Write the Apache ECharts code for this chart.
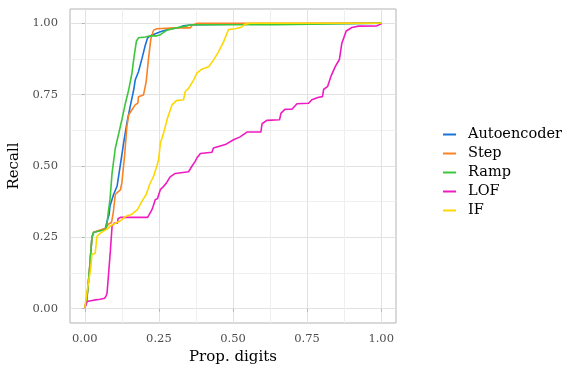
<!DOCTYPE html>
<html>
<head>
<meta charset="utf-8">
<script src="https://cdn.jsdelivr.net/npm/echarts@6/dist/echarts.min.js"></script>
<style>
  html, body { margin: 0; padding: 0; background: #ffffff; }
  #chart { width: 563px; height: 365px; }
</style>
</head>
<body>
<div id="chart"></div>
<script>
// Recall against the proportion of digits inspected, one curve per detector.
const seriesNames = ['Autoencoder', 'Step', 'Ramp', 'LOF', 'IF'];
const seriesColors = ['#1a73d6', '#fb8224', '#3cc63c', '#ee1cc0', '#ffd700'];

const majorTicks = [0, 0.25, 0.5, 0.75, 1];
const minorTicks = [0.125, 0.375, 0.625, 0.875];

const autoencoder = [
  [0, 0.003], [0.007, 0.035], [0.016, 0.139], [0.024, 0.25], [0.03, 0.268],
  [0.052, 0.274], [0.069, 0.28], [0.077, 0.314], [0.082, 0.33], [0.085, 0.36],
  [0.097, 0.40], [0.109, 0.43], [0.12, 0.505], [0.131, 0.581], [0.142, 0.651],
  [0.153, 0.708], [0.165, 0.767], [0.17, 0.801], [0.181, 0.83], [0.193, 0.877],
  [0.204, 0.923], [0.212, 0.949], [0.221, 0.956], [0.255, 0.97], [0.288, 0.981],
  [0.316, 0.984], [0.333, 0.991], [0.356, 0.994], [0.5, 0.997], [0.502, 1.0], [1, 1]
];

const step = [
  [0, 0.003], [0.007, 0.035], [0.016, 0.139], [0.024, 0.25], [0.03, 0.268],
  [0.052, 0.276], [0.07, 0.282], [0.079, 0.296], [0.09, 0.302], [0.096, 0.337],
  [0.103, 0.401], [0.12, 0.416], [0.125, 0.441], [0.134, 0.534], [0.142, 0.639],
  [0.148, 0.679], [0.159, 0.697], [0.17, 0.714], [0.179, 0.72], [0.181, 0.743],
  [0.198, 0.749], [0.207, 0.795], [0.215, 0.877], [0.223, 0.947], [0.232, 0.976],
  [0.243, 0.981], [0.305, 0.984], [0.356, 0.984], [0.362, 0.993], [0.38, 1.0], [1, 1]
];

const ramp = [
  [0, 0.003], [0.007, 0.035], [0.016, 0.139], [0.024, 0.25], [0.029, 0.267],
  [0.052, 0.273], [0.068, 0.276], [0.074, 0.29], [0.079, 0.337], [0.085, 0.383],
  [0.092, 0.476], [0.103, 0.563], [0.116, 0.621], [0.125, 0.662], [0.137, 0.72],
  [0.148, 0.767], [0.159, 0.825], [0.167, 0.889], [0.174, 0.937], [0.181, 0.949],
  [0.204, 0.952], [0.221, 0.956], [0.243, 0.956], [0.255, 0.96], [0.277, 0.976],
  [0.311, 0.984], [0.345, 0.991], [0.36, 0.995], [0.64, 0.995], [0.645, 1.0], [1, 1]
];

const lof = [
  [0, 0.003], [0.004, 0.01], [0.008, 0.025], [0.02, 0.028], [0.03, 0.03],
  [0.052, 0.033], [0.067, 0.037], [0.072, 0.045], [0.075, 0.055], [0.08, 0.12],
  [0.086, 0.2], [0.092, 0.29], [0.1, 0.3], [0.11, 0.3], [0.112, 0.315],
  [0.12, 0.32], [0.212, 0.32], [0.221, 0.337], [0.227, 0.348], [0.238, 0.383],
  [0.245, 0.385], [0.255, 0.418], [0.262, 0.424], [0.275, 0.44], [0.288, 0.462],
  [0.305, 0.474], [0.35, 0.48], [0.362, 0.5], [0.373, 0.517], [0.378, 0.528],
  [0.39, 0.544], [0.429, 0.548], [0.434, 0.563], [0.474, 0.575], [0.502, 0.592],
  [0.524, 0.602], [0.547, 0.619], [0.594, 0.619], [0.598, 0.648], [0.614, 0.66],
  [0.657, 0.662], [0.662, 0.685], [0.676, 0.699], [0.699, 0.699], [0.716, 0.718],
  [0.755, 0.72], [0.766, 0.732], [0.789, 0.741], [0.802, 0.743], [0.806, 0.769],
  [0.819, 0.778], [0.83, 0.813], [0.845, 0.848], [0.859, 0.873], [0.867, 0.929],
  [0.882, 0.973], [0.901, 0.985], [0.924, 0.99], [0.985, 0.991], [0.999, 0.997], [1, 1]
];

const isoForest = [
  [0, 0.003], [0.007, 0.058], [0.019, 0.134], [0.024, 0.19], [0.035, 0.194],
  [0.041, 0.253], [0.052, 0.265], [0.075, 0.279], [0.086, 0.29], [0.12, 0.308],
  [0.137, 0.323], [0.159, 0.331], [0.178, 0.348], [0.193, 0.377], [0.207, 0.4],
  [0.219, 0.436], [0.232, 0.464], [0.243, 0.5], [0.249, 0.523], [0.255, 0.581],
  [0.266, 0.616], [0.279, 0.668], [0.294, 0.714], [0.309, 0.729], [0.333, 0.732],
  [0.339, 0.761], [0.35, 0.772], [0.367, 0.801], [0.378, 0.825], [0.395, 0.839],
  [0.418, 0.848], [0.434, 0.871], [0.451, 0.9], [0.468, 0.935], [0.485, 0.978],
  [0.508, 0.981], [0.53, 0.987], [0.541, 0.997], [0.56, 1.0], [1, 1]
];

const seriesData = [autoencoder, step, ramp, lof, isoForest];

const FONT = '"DejaVu Serif", "Liberation Serif", serif';
const AXIS_MIN = -0.05, AXIS_MAX = 1.05;

function majorAxis(isX) {
  return {
    type: 'value',
    position: isX ? 'bottom' : 'left',
    min: AXIS_MIN,
    max: AXIS_MAX,
    axisLine: { show: false },
    axisTick: {
      show: true, length: 3, lineStyle: { color: '#b3b3b3', width: 1 },
      customValues: majorTicks
    },
    axisLabel: {
      customValues: majorTicks,
      formatter: v => v.toFixed(2),
      color: '#4d4d4d', fontFamily: FONT, fontSize: 11.5,
      margin: isX ? 10 : 12
    },
    splitLine: { show: true, lineStyle: { color: '#e2e2e2', width: 1 } },
    nameLocation: 'middle',
    nameTextStyle: { color: '#000', fontFamily: FONT, fontSize: 15 }
  };
}

function minorAxis(isX) {
  return {
    type: 'value',
    position: isX ? 'bottom' : 'left',
    min: AXIS_MIN,
    max: AXIS_MAX,
    axisLine: { show: false },
    axisTick: { show: false, customValues: minorTicks },
    axisLabel: { show: false, customValues: minorTicks },
    splitLine: { show: true, lineStyle: { color: '#efefef', width: 1 } }
  };
}

const xMain = Object.assign(majorAxis(true), { name: 'Prop. digits', nameGap: 22 });
const yMain = Object.assign(majorAxis(false), { name: 'Recall', nameGap: 40, nameRotate: 90 });

const chart = echarts.init(document.getElementById('chart'), null, { renderer: 'canvas' });
chart.setOption({
  animation: false,
  backgroundColor: '#ffffff',
  grid: {
    left: 70, right: 167, top: 9, bottom: 42,
    containLabel: false,
    outerBoundsMode: 'none',
    show: true, borderColor: '#b3b3b3', borderWidth: 1, backgroundColor: 'transparent'
  },
  xAxis: [minorAxis(true), xMain],
  yAxis: [minorAxis(false), yMain],
  legend: {
    orient: 'vertical',
    left: 438, top: 122,
    itemWidth: 13, itemHeight: 2, itemGap: 4,
    icon: 'rect',
    textStyle: { fontFamily: FONT, fontSize: 14.5, color: '#000', padding: [0, 0, 0, 7] },
    data: seriesNames
  },
  series: seriesNames.map((name, i) => ({
    name,
    type: 'line',
    xAxisIndex: 1,
    yAxisIndex: 1,
    data: seriesData[i],
    showSymbol: false,
    symbol: 'none',
    color: seriesColors[i],
    lineStyle: { width: 1.6, color: seriesColors[i] },
    z: 2 + i
  }))
});
</script>
</body>
</html>
